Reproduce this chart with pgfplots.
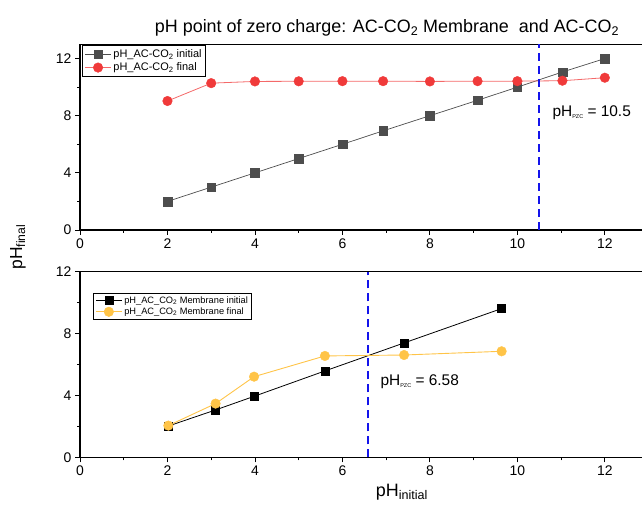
\documentclass[border=0pt]{standalone}
\usepackage{fontspec}
\setmainfont{Liberation Sans}
\usepackage{pgfplots}
\pgfplotsset{compat=1.18}

\definecolor{darkgr}{RGB}{77,77,77}
\definecolor{redpt}{RGB}{240,58,58}
\definecolor{redln}{RGB}{244,105,105}
\definecolor{yelpt}{RGB}{255,196,72}
\definecolor{pzcblue}{RGB}{20,20,235}

\pgfplotsset{
  phaxis/.style={
    scale only axis,
    width=562bp, height=185.7bp,
    xmin=0, xmax=12.85,
    ymin=0,
    axis x line=box,
    axis y line*=left,
    xtick pos=bottom, ytick pos=left,
    xtick={0,2,...,12},
    minor x tick num=1,
    minor y tick num=1,
    tick align=outside,
    major tick length=5bp,
    minor tick length=3bp,
    axis line style={line width=1.1bp},
    tick style={black, line width=0.8bp},
    /pgf/number format/assume math mode=true,
    tick label style={font=\fontsize{14}{16}\selectfont},
    legend cell align=left,
    legend image code/.code={
      \draw[mark repeat=2, mark phase=2, #1]
        plot coordinates {(0bp,0bp) (13bp,0bp) (26bp,0bp)};
    },
  },
  pzcline/.style={color=pzcblue, line width=1.6bp,
    dash pattern=on 8bp off 5bp, mark=none, forget plot},
}

\newcommand{\pzc}{\raisebox{-0.15ex}{\fontsize{5.5}{5.5}\selectfont PZC}}

\begin{document}
\begin{tikzpicture}
\useasboundingbox (0,0) rectangle (642bp,509bp);

% upper panel: AC-CO2
\begin{axis}[phaxis,
    at={(80bp,279bp)}, anchor=south west,
    ymax=13, ytick={0,4,8,12},
    legend style={at={(0.004,0.996)}, anchor=north west,
        font=\fontsize{11}{12}\selectfont, inner sep=2bp,
        row sep=0bp, draw=black, line width=0.8bp},
]
\addplot[darkgr, line width=0.7bp, mark=square*,
    mark options={fill=darkgr, draw=darkgr, mark size=4.3bp, line width=0.4bp}]
  coordinates {
    (2,2) (3,3) (4,4) (5,5) (6,6) (6.93,6.94) (8,8)
    (9.09,9.08) (10,10) (11.03,11.06) (12,12)
  };
\addlegendentry{pH\_AC-CO\textsubscript{2} initial}
\addplot[redln, line width=0.8bp, mark=*,
    mark options={fill=redpt, draw=redpt, mark size=4.8bp, line width=0.4bp}]
  coordinates {
    (2,9.03) (3,10.28) (4,10.4) (5,10.41) (6,10.42) (6.93,10.42) (8,10.4)
    (9.09,10.42) (10,10.42) (11.03,10.45) (12,10.66)
  };
\addlegendentry{pH\_AC-CO\textsubscript{2} final}
\addplot[pzcline] coordinates {(10.5,0) (10.5,13)};
\end{axis}

% lower panel: AC-CO2 membrane
\begin{axis}[phaxis,
    at={(80bp,51.7bp)}, anchor=south west,
    ymax=12, ytick={0,4,8,12},
    legend style={at={(0.024,0.887)}, anchor=north west,
        font=\fontsize{9.3}{10.5}\selectfont, inner sep=1.5bp,
        row sep=-1bp, draw=black, line width=0.8bp},
]
\addplot[black, line width=0.8bp, mark=square*,
    mark options={fill=black, draw=black, mark size=4bp, line width=0.4bp}]
  coordinates {
    (2.02,2.02) (3.1,3.06) (3.98,3.94) (5.6,5.58) (7.41,7.39) (9.64,9.61)
  };
\addlegendentry{pH\_AC\_CO\textsubscript{2} Membrane initial}
\addplot[yelpt, line width=0.9bp, mark=*,
    mark options={fill=yelpt, draw=yelpt, mark size=4.8bp, line width=0.4bp}]
  coordinates {
    (2.02,2.05) (3.1,3.47) (3.98,5.21) (5.6,6.55) (7.41,6.61) (9.64,6.85)
  };
\addlegendentry{pH\_AC\_CO\textsubscript{2} Membrane final}
\addplot[pzcline] coordinates {(6.58,0) (6.58,12)};
\end{axis}

% texts
\node[font=\fontsize{18}{20}\selectfont] at (387bp,481bp)
  {pH point of zero charge: AC-CO\textsubscript{2} Membrane\ \ and AC-CO\textsubscript{2}};
\node[font=\fontsize{15.5}{17}\selectfont, anchor=west] at (549bp,396bp)
  {pH\pzc{} = 10.5};
\node[font=\fontsize{15.5}{17}\selectfont, anchor=west] at (377bp,127bp)
  {pH\pzc{} = 6.58};
\node[font=\fontsize{17.5}{19}\selectfont, rotate=90] at (18bp,262bp)
  {pH\textsubscript{final}};
\node[font=\fontsize{18}{20}\selectfont] at (402bp,17bp)
  {pH\textsubscript{initial}};
\end{tikzpicture}
\end{document}
